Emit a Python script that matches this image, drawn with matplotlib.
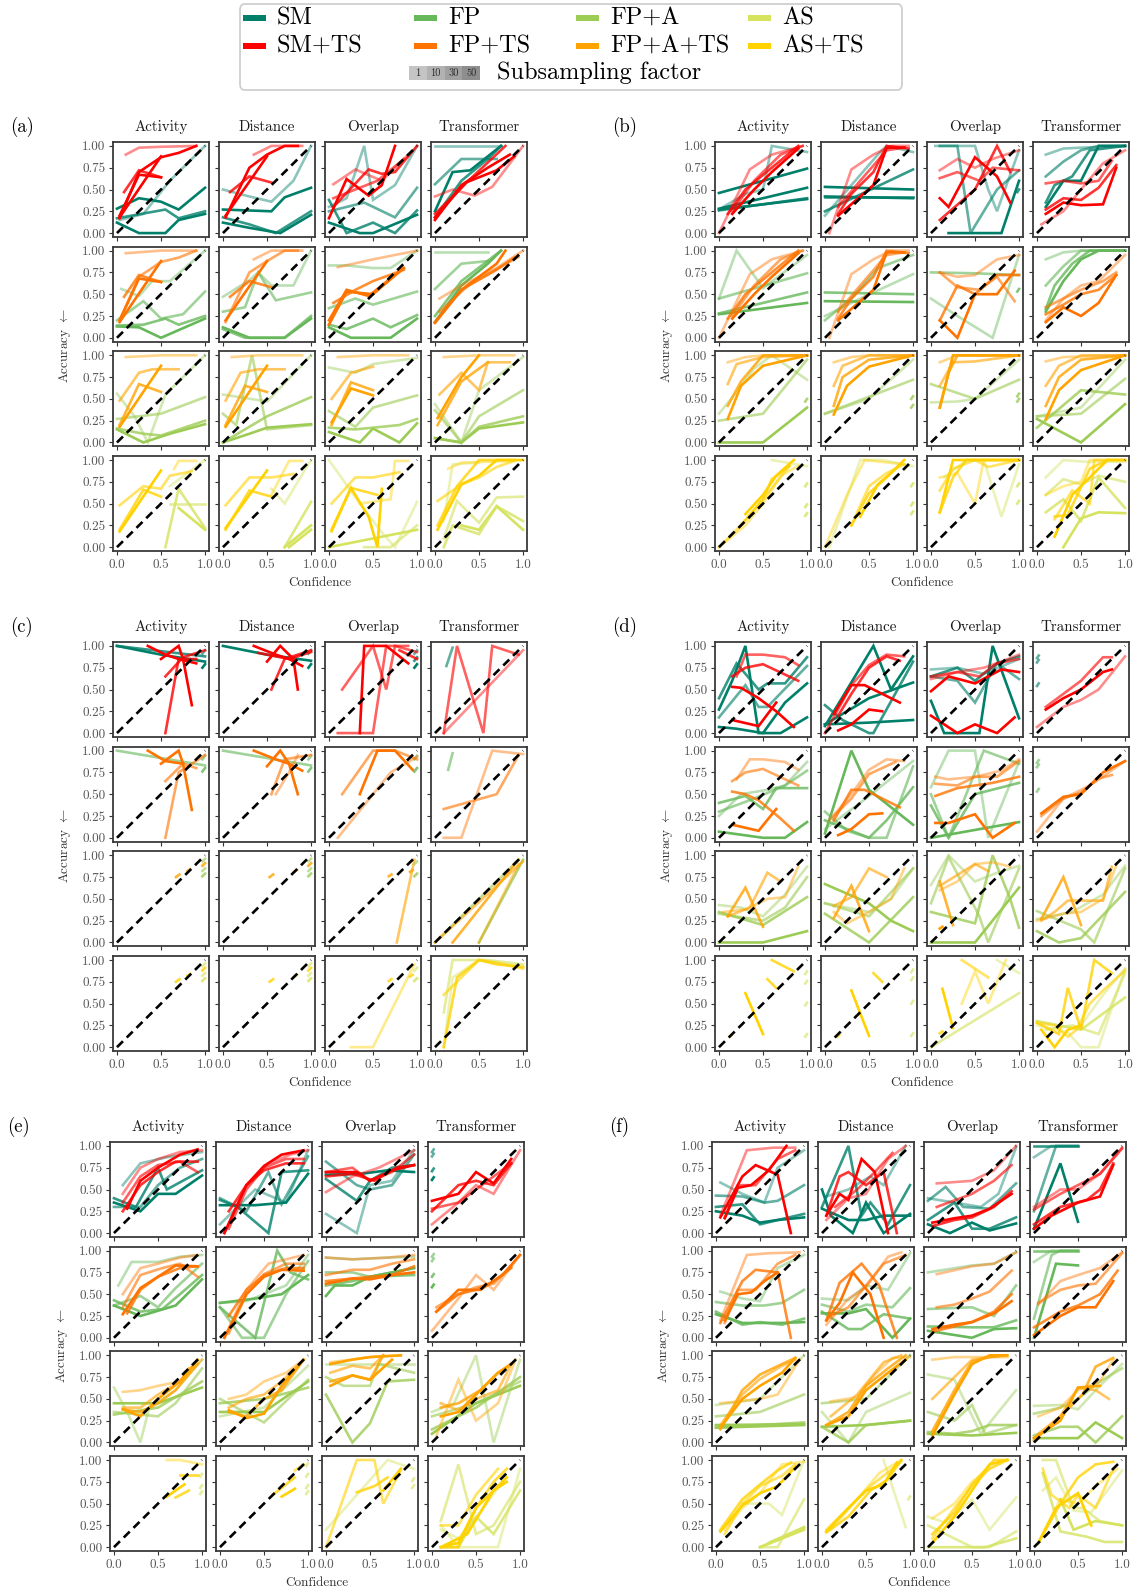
import matplotlib.pyplot as plt
from matplotlib.patches import Rectangle, FancyBboxPatch

plt.rcParams['font.family'] = ['cmr10', 'DejaVu Serif']
plt.rcParams['mathtext.fontset'] = 'cm'
plt.rcParams['axes.formatter.use_mathtext'] = True

# ---------------- data ----------------
# each line: (is_TS, subsampling level 0..3 (1,10,30,50), [x0, y0, x1, y1, ...])
columns = ["Activity", "Distance", "Overlap", "Transformer"]
base_names = ["SM", "FP", "FP+A", "AS"]
ts_names = ["SM+TS", "FP+TS", "FP+A+TS", "AS+TS"]
sub_factors = ["1", "10", "30", "50"]
y_ticks = [0.0, 0.25, 0.5, 0.75, 1.0]
x_ticks = [0.0, 0.5, 1.0]
diag = [0.0, 1.0]

panel_a = {
    "Activity": [
        [(0, 0, [0.03, .15, .3, .22, .6, .6, 1., 1.]),
         (0, 3, [0., .28, .25, .4, .5, .36, .7, .27, 1., .52]),
         (0, 2, [0., .17, .55, .27, .7, .17, 1., .25]),
         (0, 3, [0., .12, .25, 0., .55, 0., .7, .15, 1., .22]),
         (1, 0, [.1, .9, .25, .98, .5, .99, .9, 1.]),
         (1, 3, [.03, .17, .25, .7, .5, .87, .7, .92, .9, 1.]),
         (1, 2, [.08, .47, .25, .72, .5, .64]),
         (1, 3, [.03, .18, .5, .88]),
         (1, 3, [.03, .2, .25, .67, .5, .64])],
        [(0, 0, [.05, .56, .25, .48, .4, .65, .6, .65, 1., 1.]),
         (0, 1, [0., .2, .3, .42, .5, .22, .75, .27, 1., .53]),
         (0, 2, [0., .14, .3, .15, .55, .22, .7, .15, 1., .25]),
         (0, 3, [0., .13, .25, .12, .5, 0., 1., .22]),
         (1, 0, [.1, .97, .5, 1., .9, 1.]),
         (1, 1, [.03, .2, .25, .7, .5, .87, .7, .92, .9, 1.]),
         (1, 2, [.08, .47, .25, .72, .5, .64]),
         (1, 3, [.03, .18, .5, .88]),
         (1, 3, [.03, .2, .25, .68, .5, .64])],
        [(0, 0, [0., .56, .2, .3, .35, 0., .55, .55, 1., 1.]),
         (0, 1, [0., .27, .25, .3, .5, .33, 1., .52]),
         (0, 2, [0., .16, .3, .1, .5, .08, 1., .25]),
         (0, 3, [0., .15, .3, 0., .6, .1, 1., .21]),
         (1, 0, [.1, .98, .5, 1., .9, 1.]),
         (1, 1, [.03, .48, .25, .8, .4, .84, .7, .84]),
         (1, 2, [.03, .2, .25, .67, .5, .58]),
         (1, 3, [.03, .18, .5, .88])],
        [(0, 0, [.6, .7, 1., 1.]),
         (0, 1, [.6, .5, .8, .5, 1., .5]),
         (0, 2, [.55, 0., .7, .67, 1., .22]),
         (0, 3, [.7, .45, 1., .2]),
         (1, 0, [.65, .9, .7, .99, .9, .99]),
         (1, 1, [.03, .48, .3, .7, .5, .67, .6, .82, .85, .87]),
         (1, 2, [.03, .2, .3, .66, .5, .58]),
         (1, 3, [.03, .18, .5, .88])],
    ],
    "Distance": [
        [(0, 0, [0., .5, .3, .42, .55, .36, .8, .6, 1., 1.]),
         (0, 3, [0., .27, .55, .25, .7, .41, 1., .52]),
         (0, 2, [0., .18, .3, .1, .6, 0., 1., .25]),
         (0, 3, [0., .12, .3, .06, .65, 0., 1., .21]),
         (1, 0, [.35, .9, .55, 1., .9, 1.]),
         (1, 3, [.03, .18, .3, .75, .5, .9, .7, 1., .85, 1.]),
         (1, 2, [.08, .47, .3, .65, .55, .58]),
         (1, 3, [.03, .2, .5, .88])],
        [(0, 0, [0., .47, .3, .66, .4, .75, .55, .6, .8, .6, 1., 1.]),
         (0, 1, [0., .3, .25, .35, .4, .75, .6, .43, 1., .52]),
         (0, 2, [0., .1, .25, 0., .7, 0., 1., .25]),
         (0, 3, [0., .12, .3, 0., .7, 0., 1., .22]),
         (1, 0, [.35, .9, .55, 1., .9, 1.]),
         (1, 1, [.03, .18, .3, .75, .5, .88, .7, 1., .85, 1.]),
         (1, 2, [.08, .47, .3, .65, .55, .58]),
         (1, 3, [.03, .2, .5, .88])],
        [(0, 0, [0., .55, .5, .47, 1., 1.]),
         (0, 1, [0., .33, .15, .2, .33, 1., .5, .15, 1., .2]),
         (0, 2, [0., 0., .5, .3, 1., .52]),
         (0, 3, [0., 0., .3, .1, .5, .17, 1., .21]),
         (1, 0, [.1, .98, .4, 1., .9, 1.]),
         (1, 1, [.03, .48, .2, .8, .4, .84, .7, .84]),
         (1, 2, [.03, .2, .25, .65, .5, .58]),
         (1, 3, [.03, .18, .5, .88])],
        [(0, 0, [.55, .67, .7, .5, 1., 1.]),
         (0, 2, [.7, 0., 1., .52]),
         (0, 3, [.7, 0., 1., .25]),
         (0, 3, [.75, 0., 1., .2]),
         (1, 0, [.55, .6, .75, .99, .9, .99]),
         (1, 1, [.03, .48, .3, .8, .55, .8, .8, .84]),
         (1, 2, [.03, .2, .3, .65, .55, .58]),
         (1, 3, [.03, .22, .5, .88])],
    ],
    "Overlap": [
        [(0, 0, [0., .3, .2, .4, .4, 1., .5, .38, .75, .55, 1., 1.]),
         (0, 1, [0., .25, .4, .35, .75, .18, 1., .52]),
         (0, 2, [0., .38, .2, 0., .5, .12, .75, 0., 1., .26]),
         (0, 3, [0., .12, .35, 0., .5, 0., 1., .21]),
         (1, 0, [.05, .56, .3, .73, .6, .6, .9, .9]),
         (1, 1, [.05, .4, .3, .5, .55, .6, .85, .85]),
         (1, 3, [0., .17, .2, .62, .45, .43, .6, .55, .75, 1.]),
         (1, 2, [.05, .3, .45, .73, .6, .68, .75, .7, 1., 1.])],
        [(0, 0, [0., .83, .2, .83, .5, .8, .7, .8, 1., 1.]),
         (0, 1, [0., .34, .3, .45, .5, .38, 1., .53]),
         (0, 2, [0., .15, .2, .1, .5, .22, .7, .12, 1., .26]),
         (0, 3, [0., .12, .25, 0., .7, 0., 1., .22]),
         (1, 0, [.1, .81, .5, .9, 1., 1.]),
         (1, 2, [.05, .4, .3, .55, .5, .65, .85, .78]),
         (1, 3, [0., .15, .2, .53, .5, .5, .85, .8]),
         (1, 3, [0., .2, .2, .55, .45, .48, .85, .8])],
        [(0, 0, [0., .86, .3, .8, .5, .9, 1., .97]),
         (0, 1, [0., .36, .3, .18, .5, .4, 1., .54]),
         (0, 2, [0., .17, .3, .15, .8, .2, 1., .27]),
         (0, 3, [0., .12, .35, 0., .5, .16, .8, 0., 1., .22]),
         (1, 0, [.1, .98, .5, 1., .9, 1.]),
         (1, 1, [.03, .5, .25, .8, .5, .87]),
         (1, 2, [.03, .2, .25, .69, .5, .6]),
         (1, 3, [.03, .23, .25, .62, .5, .54])],
        [(0, 0, [0., 1., .35, .5, .6, .17, .75, 0., 1., .52]),
         (0, 1, [.4, 0., .7, 0., 1., .25]),
         (0, 3, [0., 0., 1., .2]),
         (1, 0, [.35, .5, .7, .55, .75, .99, .9, .99]),
         (1, 1, [.03, .5, .3, .8, .5, .8, .8, .86]),
         (1, 2, [.03, .18, .25, .68, .55, .6]),
         (1, 3, [.03, .2, .25, .68, .45, .35, .55, 0., .6, .67])],
    ],
    "Transformer": [
        [(0, 0, [0., 1., .75, 1.]),
         (0, 1, [0., .56, .3, .85, .7, .85]),
         (0, 3, [0., .25, .2, .7, .4, .72, .75, 1.]),
         (0, 2, [0., .18, .3, .6, .6, .85, .75, 1.]),
         (1, 0, [0., .42, .2, .5, .45, .43, .65, .53, 1., 1.]),
         (1, 3, [0., .15, .3, .55, .6, .75, .85, .9]),
         (1, 2, [0., .22, .4, .62, .8, 1.]),
         (1, 3, [0., .18, .35, .58, .7, .72, .9, .88])],
        [(0, 0, [0., .98, .6, .98]),
         (0, 1, [0., .56, .3, .85, .6, .88]),
         (0, 2, [0., .25, .3, .65, .75, 1.]),
         (0, 3, [0., .18, .3, .6, .6, .85, .75, 1.]),
         (1, 0, [.05, .45, .3, .6, .7, .8, 1., 1.]),
         (1, 1, [.05, .3, .4, .62, .95, .93]),
         (1, 2, [0., .18, .3, .55, .7, .78, .9, .92]),
         (1, 3, [0., .17, .3, .55, .7, .85, .8, 1.])],
        [(0, 0, [0., .44, .3, 0., .5, .6, 1., .98]),
         (0, 1, [0., .37, .3, 0., .5, .3, 1., .6]),
         (0, 2, [0., .05, .3, 0., .5, .18, 1., .3]),
         (0, 3, [0., .05, .3, 0., .5, .16, 1., .23]),
         (1, 0, [.1, .98, .5, 1., .9, 1.]),
         (1, 1, [.05, .55, .3, .8, .5, .6, .6, .92, .85, .92]),
         (1, 2, [.03, .2, .3, .7, .6, .92]),
         (1, 3, [.03, .28, .3, .75, .5, 1.])],
        [(0, 0, [.1, .3, .2, .95, .5, .97]),
         (0, 1, [.1, .1, .25, .53, .5, .28, .7, .57, 1., .58]),
         (0, 2, [.1, 0., .2, .25, .5, .15, .7, .47, 1., .3]),
         (0, 3, [.3, .25, .5, .2, .7, .47, 1., .2]),
         (1, 0, [.15, .9, .3, .97, .9, .99]),
         (1, 1, [.03, .53, .3, .72, .5, .8, .7, .92, .9, .99]),
         (1, 2, [.03, .25, .25, .7, .5, 1., .9, 1.]),
         (1, 3, [.03, .2, .3, .72, .5, .82, .7, 1., 1., 1.])],
    ],
}

panel_b = {
    "Activity": [
        [(0, 0, [.05, .3, .3, .45, .5, .5, .6, 1., 1., .93]),
         (0, 3, [0., .46, 1., .74]),
         (0, 3, [0., .28, 1., .52]),
         (0, 3, [0., .27, 1., .39]),
         (0, 2, [0., .26, 1., .4]),
         (1, 0, [0., 0., .35, .73, .6, .9, .95, 1.]),
         (1, 1, [.15, .25, .4, .6, .7, .9, .95, 1.]),
         (1, 2, [.1, .22, .3, .5, .6, .75, .9, 1.]),
         (1, 3, [.15, .22, .4, .5, .6, .7, .9, .97])],
        [(0, 0, [0., .45, .2, 1., .5, .57, 1., .95]),
         (0, 1, [0., .45, 1., .74]),
         (0, 2, [0., .28, 1., .52]),
         (0, 3, [0., .27, 1., .4]),
         (1, 0, [0., 0., .35, .73, .6, .9, .95, 1.]),
         (1, 1, [.15, .25, .4, .6, .7, .9, .95, 1.]),
         (1, 2, [.1, .22, .3, .5, .6, .75, .9, 1.]),
         (1, 3, [.15, .22, .4, .5, .6, .7, .9, .97])],
        [(0, 0, [0., .33, .2, .58, .4, .85, .6, 1., 1., .72]),
         (0, 1, [0., .25, .5, .33, 1., .95]),
         (0, 3, [0., 0., .5, 0., 1., .4]),
         (0, 2, [.98, .47, 1., .5]),
         (1, 0, [.1, .92, .3, .98, .5, 1., 1., 1.]),
         (1, 1, [.1, .67, .2, .9, .5, .98, 1., 1.]),
         (1, 2, [.1, .42, .25, .7, .5, 1., 1., 1.]),
         (1, 3, [.1, .27, .25, .65, .5, .88, 1., 1.])],
        [(0, 0, [.6, 1., 1., .93]),
         (0, 2, [.98, .7, 1., .73]),
         (0, 2, [.98, .46, 1., .49]),
         (0, 2, [.98, .36, 1., .39]),
         (1, 0, [0., 0., .3, .25, .5, .5, .7, .82, .9, .93]),
         (1, 1, [0., 0., .25, .25, .5, .55, .8, .93]),
         (1, 2, [.25, .25, .5, .55, .6, .78, .8, .93]),
         (1, 3, [.3, .38, .5, .6, .65, .82, .85, 1.])],
    ],
    "Distance": [
        [(0, 0, [0., .2, .3, .55, .6, .9, .7, 1., 1., .93]),
         (0, 3, [0., .53, 1., .5]),
         (0, 3, [0., .42, 1., .4]),
         (0, 2, [0., .25, 1., .73]),
         (0, 2, [0., .41, 1., .41]),
         (1, 0, [.05, 0., .3, .73, .55, .9, .75, 1., .95, 1.]),
         (1, 1, [.15, .3, .4, .6, .7, .95, .9, .98]),
         (1, 2, [.15, .22, .3, .45, .55, .7, .7, 1., .95, .97]),
         (1, 3, [.15, .2, .4, .42, .55, .55, .7, .98, .9, .98])],
        [(0, 0, [0., .25, .4, .45, 1., .73]),
         (0, 1, [0., .2, .3, .45, .6, .8, 1., .95]),
         (0, 2, [0., .52, 1., .5]),
         (0, 3, [0., .42, 1., .41]),
         (1, 0, [.05, 0., .3, .73, .55, .9, .75, 1., .95, 1.]),
         (1, 1, [.15, .3, .4, .6, .7, .95, .9, .98]),
         (1, 2, [.15, .22, .3, .45, .55, .7, .7, 1., .95, .97]),
         (1, 3, [.15, .2, .4, .42, .55, .55, .7, .98, .9, .98])],
        [(0, 0, [0., .33, .5, .5, 1., .95]),
         (0, 1, [0., .33, 1., .72]),
         (0, 2, [.98, .5, 1., .53]),
         (0, 2, [.98, .4, 1., .43]),
         (1, 0, [.1, .92, .3, .98, .5, 1., 1., 1.]),
         (1, 1, [.1, .65, .2, .88, .5, 1., 1., 1.]),
         (1, 2, [.1, .42, .2, .75, .5, .95, 1., 1.]),
         (1, 3, [.1, .32, .25, .65, .5, .87, 1., 1.])],
        [(0, 0, [.05, 0., .4, 1., .65, 1., 1., .93]),
         (0, 2, [.98, .7, 1., .73]),
         (0, 2, [.98, .48, 1., .51]),
         (0, 2, [.98, .38, 1., .41]),
         (1, 0, [0., 0., .25, .6, .45, 1., .9, .95]),
         (1, 1, [.3, .25, .5, .7, .7, .85, .9, .95]),
         (1, 2, [.3, .25, .5, .62, .7, .8, .85, .95]),
         (1, 3, [.4, .35, .6, .72, .75, .85, .9, 1.])],
    ],
    "Overlap": [
        [(0, 0, [.05, 1., .5, 1., .65, .5, .75, .25, 1., .95]),
         (0, 1, [.1, 1., .3, 1., .45, 0., .75, .5, 1., .72]),
         (0, 3, [.2, 0., .8, 0., 1., .6]),
         (0, 2, [.98, .47, 1., .5]),
         (1, 0, [.1, .72, .3, .85, .5, .75, .7, .85, 1., .95]),
         (1, 1, [.1, .63, .3, .7, .55, .6, .7, .75, 1., .72]),
         (1, 2, [.1, .15, .5, .5, .75, 1., .9, .7]),
         (1, 3, [.1, .4, .2, .3, .5, .87, .75, .65, .9, .35])],
        [(0, 0, [0., .45, .3, .25, .7, 0., 1., .95]),
         (0, 1, [0., .75, .5, .74, 1., .72]),
         (0, 2, [.98, .53, 1., .56]),
         (1, 0, [.1, .75, .3, .7, .5, .72, .75, .9, 1., .95]),
         (1, 1, [.1, .75, .3, .58, .55, .55, .75, .7, .95, .42]),
         (1, 2, [.1, .2, .3, .6, .5, .5, .75, .72, 1., .72]),
         (1, 3, [.1, .2, .3, 0., .5, .5, .75, .5, .95, .77])],
        [(0, 0, [0., .46, .3, .47, .5, .5, 1., .95]),
         (0, 1, [0., .67, .5, .5, 1., .72]),
         (0, 2, [.98, .53, 1., .56]),
         (0, 2, [.98, .47, 1., .5]),
         (1, 0, [.1, .92, .3, 1., 1., 1.]),
         (1, 1, [.1, .65, .25, .92, .5, .93, 1., 1.]),
         (1, 2, [.1, .4, .2, .8, .3, 1., 1., 1.]),
         (1, 3, [.1, .4, .25, 1., 1., 1.])],
        [(0, 0, [.15, .8, .4, 1., .6, 1., .8, .35, 1., .95]),
         (0, 2, [.98, .7, 1., .73]),
         (0, 2, [.98, .5, 1., .53]),
         (1, 0, [.1, .8, .3, .85, .5, .5, .6, 1., 1., 1.]),
         (1, 1, [.1, .65, .25, .9, .5, 1., .65, .92, 1., 1.]),
         (1, 2, [.1, .4, .25, .8, .4, 1., 1., 1.]),
         (1, 3, [.1, .4, .25, 1., 1., 1.])],
    ],
    "Transformer": [
        [(0, 0, [.1, .9, .3, .97, .5, .98, 1., 1.]),
         (0, 1, [.1, .65, .3, .82, .5, .95, .7, 1., 1., 1.]),
         (0, 2, [.1, .35, .2, .55, .4, .65, .6, .95, 1., 1.]),
         (0, 3, [.1, .3, .3, .6, .5, .6, .7, 1., 1., 1.]),
         (1, 0, [.05, .1, .3, .25, .5, .5, .75, .8, 1., .95]),
         (1, 1, [.1, .57, .3, .6, .5, .57, .7, .6, .85, .83]),
         (1, 2, [.1, .27, .3, .4, .5, .38, .7, .52, .9, .78]),
         (1, 3, [.1, .22, .3, .35, .5, .32, .75, .33, .9, .75])],
        [(0, 0, [.1, .9, .3, .98, .5, 1., 1., 1.]),
         (0, 1, [.1, .6, .3, .82, .5, 1., 1., 1.]),
         (0, 2, [.1, .33, .2, .6, .4, .85, .6, 1., 1., 1.]),
         (0, 3, [.1, .3, .3, .65, .5, .9, .7, 1., 1., 1.]),
         (1, 0, [.1, .2, .3, .45, .5, .6, .7, .65, 1., .95]),
         (1, 1, [.1, .35, .3, .45, .5, .55, .75, .65, .9, .75]),
         (1, 2, [.1, .27, .3, .38, .5, .5, .7, .55, .9, .72]),
         (1, 3, [.1, .18, .3, .35, .5, .25, .7, .4, .9, .72])],
        [(0, 0, [0., .3, .5, .4, 1., .95]),
         (0, 1, [0., .3, .5, .33, 1., .73]),
         (0, 2, [0., .17, .5, .6, 1., .55]),
         (0, 3, [0., .27, .5, 0., 1., .44]),
         (1, 0, [.1, .93, .3, .98, 1., 1.]),
         (1, 1, [.1, .65, .25, .88, .5, 1., 1., 1.]),
         (1, 2, [.1, .42, .25, .75, .5, .95, 1., 1.]),
         (1, 3, [.1, .27, .25, .6, .5, .83, 1., 1.])],
        [(0, 0, [.1, .8, .3, 1., .55, .98, 1., .98]),
         (0, 1, [.1, .6, .3, .78, .5, .72, .7, .82, 1., .75]),
         (0, 2, [.1, .4, .3, .55, .5, .3, .7, .8, 1., .45]),
         (0, 3, [.3, 0., .5, .33, .7, .4, 1., .39]),
         (1, 0, [.1, .6, .3, .7, .5, .75, .6, 1., 1., 1.]),
         (1, 1, [.2, .32, .4, .65, .6, .5, .65, 1., 1., 1.]),
         (1, 2, [.2, .35, .35, .37, .6, .9, .8, 1.]),
         (1, 3, [.2, .12, .4, .6, .6, .8, .8, 1., 1., 1.])],
    ],
}

panel_c = {
    "Activity": [
        [(0, 3, [0., 1., .5, .9, 1., .82]),
         (0, 2, [0., 1., 1., .88]),
         (0, 1, [.97, .91, 1., .95]),
         (0, 3, [.97, .75, 1., .79]),
         (1, 3, [.35, 1., .55, .9, .7, .85, .9, .8]),
         (1, 3, [.5, .85, .7, 1., .75, .85, .85, .32]),
         (1, 2, [.55, .65, .75, .87, 1., .95]),
         (1, 2, [.55, 0., .7, .85, .9, .85])],
        [(0, 1, [0., 1., 1., .83]),
         (0, 1, [.97, .9, 1., .94]),
         (0, 2, [.97, .76, 1., .8]),
         (1, 3, [.35, 1., .55, .88, .75, .85]),
         (1, 3, [.5, .85, .7, 1., .75, .85, .85, .32]),
         (1, 1, [.55, 0., .7, .75, 1., .95]),
         (1, 1, [.55, .65, .75, .85, .9, .8])],
        [(1, 2, [.67, .75, .71, .78]),
         (1, 2, [.8, .82, .83, .84]),
         (1, 2, [.97, .88, 1., .91]),
         (0, 1, [.97, .93, 1., .96]),
         (0, 1, [.97, .82, 1., .85]),
         (0, 2, [.97, .76, 1., .79])],
        [(1, 2, [.67, .75, .71, .78]),
         (1, 2, [.8, .82, .83, .84]),
         (1, 2, [.97, .88, 1., .91]),
         (0, 1, [.97, .93, 1., .96]),
         (0, 1, [.97, .82, 1., .85]),
         (0, 2, [.97, .76, 1., .79])],
    ],
    "Distance": [
        [(0, 3, [0., 1., .5, .9, 1., .83]),
         (0, 1, [.97, .91, 1., .95]),
         (0, 3, [.97, .75, 1., .79]),
         (1, 3, [.35, 1., .6, .9, .75, .85, .9, .77]),
         (1, 3, [.5, .82, .65, 1., .8, .85, .85, .5]),
         (1, 2, [.55, .5, .7, .85, 1., .95]),
         (1, 2, [.4, .92, .75, .85, 1., .93])],
        [(0, 1, [0., 1., 1., .83]),
         (0, 1, [.97, .9, 1., .94]),
         (0, 2, [.97, .76, 1., .8]),
         (1, 3, [.35, 1., .6, .9, .75, .85, .9, .77]),
         (1, 3, [.5, .82, .65, 1., .75, .85, .85, .5]),
         (1, 1, [.55, .5, .7, .9, 1., .95]),
         (1, 0, [.6, .5, .75, .75, .85, .95])],
        [(1, 2, [.53, .75, .57, .78]),
         (1, 2, [.81, .81, .84, .83]),
         (1, 2, [.97, .88, 1., .91]),
         (0, 1, [.97, .93, 1., .96]),
         (0, 1, [.97, .82, 1., .85]),
         (0, 2, [.97, .76, 1., .79])],
        [(1, 2, [.53, .75, .57, .78]),
         (1, 2, [.81, .81, .84, .83]),
         (1, 2, [.97, .88, 1., .91]),
         (0, 1, [.97, .93, 1., .96]),
         (0, 1, [.97, .82, 1., .85]),
         (0, 2, [.97, .76, 1., .79])],
    ],
    "Overlap": [
        [(0, 1, [.97, .91, 1., .95]),
         (0, 2, [.97, .83, 1., .87]),
         (0, 3, [.97, .75, 1., .79]),
         (1, 1, [.15, .5, .5, 1., .65, .5, .75, 1., 1., .93]),
         (1, 1, [.1, 0., .5, 0., .65, 1., .9, 1.]),
         (1, 3, [.35, 0., .4, 1., .65, 1., .9, .8]),
         (1, 2, [.8, .95, 1., .85])],
        [(0, 1, [.97, .9, 1., .94]),
         (0, 2, [.97, .76, 1., .8]),
         (1, 1, [.15, .5, .5, 1., .75, 1., 1., .9]),
         (1, 3, [.35, .5, .55, 1., .75, 1., .95, .78]),
         (1, 0, [.1, 0., .5, .5, .7, .75, 1., .93])],
        [(1, 1, [.77, 0., .97, .95]),
         (1, 2, [.68, .76, .71, .78]),
         (1, 2, [.92, .81, .95, .83]),
         (0, 1, [.97, .9, 1., .93]),
         (0, 2, [.97, .76, 1., .79])],
        [(1, 0, [.25, 0., .5, 0., .97, .95]),
         (1, 2, [.68, .76, .71, .78]),
         (1, 2, [.92, .81, .95, .83]),
         (0, 1, [.97, .88, 1., .91]),
         (0, 2, [.97, .76, 1., .79])],
    ],
    "Transformer": [
        [(0, 1, [.13, .77, .2, .98]),
         (1, 1, [.1, 0., .25, 1., .55, 0., .65, 1., .95, .9]),
         (1, 0, [.1, 0., 1., .95])],
        [(0, 1, [.15, .78, .2, .97]),
         (1, 1, [.1, .33, .7, .5, .95, .95]),
         (1, 0, [.1, 0., .3, 0., .65, 1., 1., .96])],
        [(0, 1, [0., 0., .95, .95]),
         (0, 2, [.5, 0., 1., .95]),
         (1, 2, [.2, 0., .95, .95]),
         (1, 1, [0., 0., 1., .93]),
         (1, 0, [.5, 0., .95, .9])],
        [(0, 1, [.1, .4, .2, 1., .6, 1., 1., .95]),
         (0, 0, [.1, 0., .2, .8, .5, 1., 1., .92]),
         (1, 2, [.1, 0., .25, .8, .5, 1., .7, .95, 1., .92]),
         (1, 1, [.1, .6, .3, .8, .5, 1., .7, .97, 1., .9])],
    ],
}

panel_d = {
    "Activity": [
        [(0, 3, [0., .27, .15, .6, .3, 1., .45, 0., .5, 0., .75, .35, 1., .57]),
         (0, 2, [0., .4, .2, .8, .45, .5, .55, .57, .75, .57, 1., .87]),
         (0, 1, [0., .18, .3, .55, .45, .3, .55, .3, 1., .77]),
         (0, 3, [0., .07, .2, .05, .5, 0., .7, 0., 1., .18]),
         (1, 1, [.2, .65, .3, .9, .5, .9, .75, .87, .9, .78]),
         (1, 2, [.15, .65, .3, .75, .5, .79, .9, .6]),
         (1, 3, [.15, .53, .25, .52, .45, .4, .65, .25, .85, .07]),
         (1, 3, [.15, .15, .45, .08, .65, .35])],
        [(0, 0, [0., .25, .25, .5, .55, .55, .75, .6, 1., .87]),
         (0, 1, [0., .3, .4, .45, .75, .6, 1., .77]),
         (0, 2, [0., .4, .3, .48, .5, .33, .65, .57, 1., .57]),
         (0, 3, [0., .07, .5, 0., .75, 0., 1., .18]),
         (1, 0, [.2, .67, .35, .9, .5, .9, .75, .87, .9, .78]),
         (1, 1, [.15, .65, .3, .75, .5, .79, .9, .6]),
         (1, 2, [.15, .53, .3, .5, .45, .43, .7, .22, .85, .08]),
         (1, 3, [.15, .15, .45, .08, .65, .33])],
        [(0, 0, [0., .43, .25, .4, .5, .3, .75, .55, 1., .87]),
         (0, 1, [0., .33, .5, .25, .75, .4, 1., .75]),
         (0, 2, [0., .35, .5, .2, 1., .52]),
         (0, 3, [0., 0., .5, 0., 1., .13]),
         (1, 0, [.05, .35, .3, .38, .55, .5, .75, .52, .9, .87]),
         (1, 1, [.1, .3, .35, .4, .55, .8, .7, .7]),
         (1, 2, [.1, .3, .3, .63, .5, .18])],
        [(1, 2, [.6, 1., .85, .87]),
         (1, 3, [.3, .62, .5, .15]),
         (1, 2, [.55, .78, .65, .68]),
         (1, 2, [.12, .12, .14, .14]),
         (0, 1, [.98, .84, 1., .87]),
         (0, 1, [.98, .73, 1., .76]),
         (0, 1, [.98, .48, 1., .51]),
         (0, 1, [.98, .12, 1., .15])],
    ],
    "Distance": [
        [(0, 3, [0., .08, .55, 1., .75, .5, 1., .88]),
         (0, 2, [0., .32, .2, .15, .5, 0., .55, 0., 1., .82]),
         (0, 3, [0., .1, .5, .4, 1., .58]),
         (0, 3, [0., .1, .5, .12, 1., .15]),
         (1, 1, [0., 0., .3, .55, .5, .78, .7, .9, .9, .88]),
         (1, 2, [.15, .2, .3, .45, .5, .75, .7, .88, .85, .83]),
         (1, 3, [.1, .22, .3, .55, .45, .55, .85, .35]),
         (1, 3, [.15, .03, .3, .1, .5, .27, .65, .25])],
        [(0, 3, [0., .05, .3, 1., .5, .55, 1., .15]),
         (0, 1, [0., .3, .25, .08, .5, 0., .7, 0., 1., .82]),
         (0, 0, [0., .1, .4, .4, 1., .88]),
         (0, 2, [0., .2, .5, 0., .7, .2, 1., .58]),
         (1, 0, [.05, .2, .3, .5, .5, .78, .7, .9, .9, .88]),
         (1, 1, [.1, .25, .3, .45, .5, .73, .8, .87]),
         (1, 2, [.1, .2, .3, .55, .45, .55, .85, .35]),
         (1, 3, [.15, .03, .3, .1, .5, .27, .65, .28])],
        [(0, 3, [0., .67, .5, .45, .75, .25, 1., .13]),
         (0, 2, [0., .33, .5, 0., 1., .52]),
         (0, 1, [0., .45, .5, .3, 1., .85]),
         (0, 0, [0., .45, .5, .35, .75, .5, 1., .85]),
         (1, 0, [.1, .35, .25, .22, .5, .35, .75, .5, .9, .85]),
         (1, 1, [.1, .42, .3, .52, .5, .85, .7, .75]),
         (1, 2, [.1, .28, .3, .65, .5, .13])],
        [(1, 3, [.3, .65, .5, .13]),
         (1, 2, [.55, .85, .65, .75]),
         (1, 2, [.14, .12, .16, .14]),
         (0, 1, [.98, .86, 1., .89]),
         (0, 1, [.98, .77, 1., .8]),
         (0, 1, [.98, .5, 1., .53]),
         (0, 1, [.98, .13, 1., .16])],
    ],
    "Overlap": [
        [(0, 0, [0., .73, .3, .75, .6, .68, 1., .85]),
         (0, 1, [0., .65, .3, .6, .5, .35, .75, .8, 1., .62]),
         (0, 3, [0., .37, .15, 0., .55, 0., .7, 1., 1., .17]),
         (0, 2, [0., .65, .3, .75, .5, .6, .75, .8, 1., .88]),
         (1, 0, [0., .62, .3, .7, .6, .75, .8, .82, 1., .9]),
         (1, 1, [0., .65, .3, .7, .55, .65, .75, .8, 1., .85]),
         (1, 3, [0., .48, .2, .65, .5, .57, .8, .73, 1., .7]),
         (1, 3, [0., .2, .3, 0., .5, .1, .75, 0., .95, .18])],
        [(0, 0, [0., .58, .2, 1., .5, 1., .65, 0., 1., .87]),
         (0, 1, [0., .5, .2, 0., .6, 1., 1., .85]),
         (0, 2, [0., .37, .2, 0., .5, .5, 1., .63]),
         (0, 3, [0., 0., 1., .18]),
         (1, 0, [.05, .7, .2, .67, .5, .7, .8, .77, 1., .9]),
         (1, 1, [.05, .62, .3, .6, .5, .7, .75, .7, 1., .88]),
         (1, 2, [.05, .48, .3, .57, .7, .63, 1., .7]),
         (1, 3, [.05, .17, .2, .17, .5, .27, .7, 0., .95, .17])],
        [(0, 0, [0., .66, .2, 1., .5, .7, .75, .8, 1., .88]),
         (0, 1, [0., .45, .2, .98, .55, .3, .65, 0., 1., .85]),
         (0, 2, [0., .35, .5, .22, .7, 1., .9, .5, 1., .17]),
         (0, 3, [0., 0., .5, 0., 1., .63]),
         (1, 0, [.1, .6, .3, .7, .5, .9, .7, .92, .9, .87]),
         (1, 1, [.1, .65, .5, .9, .65, .82]),
         (1, 2, [.1, .7, .25, .2]),
         (1, 3, [.1, .16, .13, .18])],
        [(0, 1, [0., 0., 1., .62]),
         (0, 0, [.75, 1., 1., .85]),
         (1, 1, [.35, 1., .65, .8]),
         (1, 0, [.35, .5, .5, .87, .65, .5, .85, 1.]),
         (1, 3, [.13, .67, .25, .22]),
         (1, 2, [.1, .16, .13, .18])],
    ],
    "Transformer": [
        [(0, 1, [0., .86, .02, .89]),
         (0, 1, [0., .81, .02, .84]),
         (0, 1, [0., .54, .02, .57]),
         (1, 0, [0., .07, .3, .3, .5, .38, .7, .5, 1., .88]),
         (1, 1, [.1, .3, .5, .6, .75, .87, .85, .87]),
         (1, 3, [.1, .27, .3, .4, .5, .5, .75, .7, .85, .73])],
        [(0, 1, [0., .86, .02, .89]),
         (0, 1, [0., .81, .02, .84]),
         (0, 1, [0., .53, .02, .56]),
         (1, 0, [0., .07, .3, .45, .6, .6, 1., .88]),
         (1, 1, [.05, .25, .3, .45, .5, .52, .7, .68, .85, .72]),
         (1, 3, [.05, .28, .3, .47, .5, .5, .75, .75, 1., .88])],
        [(0, 0, [0., .27, .4, .35, .75, .55, 1., .88]),
         (0, 1, [0., .36, .5, .15, .65, 0., 1., .85]),
         (0, 2, [0., .13, .25, 0., .5, .05, 1., .58]),
         (1, 0, [0., .25, .3, .33, .5, .35, .75, .5, .9, .88]),
         (1, 1, [.05, .25, .2, .35, .35, .48, .75, .48, .85, .87]),
         (1, 2, [.05, .27, .3, .75, .5, .2])],
        [(0, 0, [0., .25, .35, .17, .5, 0., .7, 0., 1., .9]),
         (0, 1, [.1, .2, .4, .25, .7, .15, 1., .85]),
         (0, 2, [0., .3, .5, .2, 1., .57]),
         (0, 0, [.5, .25, .75, .6, 1., .9]),
         (1, 1, [0., .28, .2, .25, .35, .12, .45, .2, .6, .5, .75, .65, 1., .88]),
         (1, 2, [0., .28, .25, .15, .35, .68, .5, .2, .65, 1., .85, .85]),
         (1, 3, [.05, .2, .2, 0., .35, .2, .5, .25])],
    ],
}

panel_e = {
    "Activity": [
        [(0, 0, [.1, .55, .3, .8, .6, .87, 1., .93]),
         (0, 1, [0., .3, .3, .3, .5, .55, .75, .75, 1., .85]),
         (0, 2, [0., .4, .25, .3, .5, .75, .6, .5, 1., .72]),
         (0, 3, [0., .35, .3, .25, .5, .45, .7, .45, 1., .66]),
         (1, 0, [.1, .45, .3, .75, .5, .85, .75, .93, 1., .95]),
         (1, 1, [.1, .35, .3, .65, .5, .78, .75, .82, .95, .7]),
         (1, 2, [.1, .25, .3, .55, .5, .7, .7, .82, .95, .82]),
         (1, 3, [.15, .28, .3, .6, .5, .75, .75, .9, .95, .96])],
        [(0, 0, [.05, .6, .2, .87, .5, .87, .75, .93, 1., .95]),
         (0, 1, [0., .37, .3, .48, .5, .35, .7, .57, 1., .85]),
         (0, 2, [0., .43, .3, .3, .55, .33, .75, .5, 1., .72]),
         (0, 3, [0., .37, .3, .25, .7, .37, 1., .67]),
         (1, 0, [.1, .5, .3, .8, .5, .85, .75, .92, .95, .95]),
         (1, 1, [.1, .35, .3, .72, .55, .8, .75, .85, .95, .7]),
         (1, 2, [.15, .28, .3, .55, .5, .7, .75, .8, .95, .82]),
         (1, 3, [.1, .27, .3, .57, .5, .7, .7, .83, .95, .82])],
        [(0, 0, [0., .63, .15, .35, .3, 0., .4, .4, .7, .6, 1., .95]),
         (0, 1, [0., .35, .5, .3, .7, .45, 1., .85]),
         (0, 2, [0., .32, .5, .4, 1., .7]),
         (0, 3, [0., .45, .5, .45, 1., .63]),
         (1, 0, [.1, .58, .3, .6, .5, .65, .75, .7, 1., .95]),
         (1, 1, [.1, .4, .3, .4, .5, .55, .75, .7, .85, .85]),
         (1, 2, [.1, .38, .3, .35, .5, .45, .7, .6, .95, .9]),
         (1, 3, [.1, .38, .3, .3, .5, .5, .75, .7, .95, .95])],
        [(1, 0, [.6, 1., .75, 1., 1., .95]),
         (1, 2, [.75, .83, .95, .83]),
         (1, 3, [.6, .58, .8, .72]),
         (1, 2, [.7, .57, .85, .65]),
         (0, 1, [.98, .81, 1., .84]),
         (0, 1, [.98, .68, 1., .71]),
         (0, 1, [.98, .61, 1., .64])],
    ],
    "Distance": [
        [(0, 0, [0., .1, .4, .5, .75, .35, 1., .95]),
         (0, 1, [0., .4, .3, .25, .55, .7, .7, .33, 1., .88]),
         (0, 2, [0., .38, .2, .3, .55, 0., .7, .7, 1., .72]),
         (0, 3, [0., .32, .4, .32, .75, .35, 1., .68]),
         (1, 0, [.05, 0., .3, .55, .55, .8, .8, .9, 1., .95]),
         (1, 1, [.1, .05, .3, .5, .5, .75, .75, .85, .95, .85]),
         (1, 2, [.1, .25, .3, .55, .5, .72, .75, .8, .95, .8]),
         (1, 3, [.05, 0., .3, .55, .5, .77, .7, .9, .95, .95])],
        [(0, 0, [0., .4, .3, .42, .5, .5, .75, .6, 1., .95]),
         (0, 1, [0., .35, .25, 0., .5, 0., .75, .5, 1., .88]),
         (0, 2, [0., .35, .4, 0., .65, 1., .8, .75, 1., .67]),
         (0, 3, [0., .4, .4, .45, .7, .5, 1., .72]),
         (1, 0, [.05, 0., .3, .55, .55, .85, .75, .9, .95, .95]),
         (1, 1, [.1, .05, .3, .5, .5, .73, .75, .85, .95, .85]),
         (1, 2, [.1, .25, .3, .55, .5, .72, .75, .8, .95, .8]),
         (1, 3, [.05, 0., .3, .5, .5, .7, .7, .78, .95, .77])],
        [(0, 0, [0., .3, .5, .4, 1., .88]),
         (0, 1, [0., .5, .5, .23, 1., .72]),
         (0, 2, [0., .45, .5, .5, 1., .63]),
         (0, 3, [0., .35, .5, .35, 1., .7]),
         (1, 0, [.1, .5, .3, .55, .5, .7, .75, .8, .95, .95]),
         (1, 1, [.1, .4, .3, .5, .5, .55, .7, .7, .9, .9]),
         (1, 2, [.1, .35, .3, .3, .5, .5, .7, .6, .95, .95]),
         (1, 3, [.1, .37, .3, .28, .5, .33, .7, .65, .95, .95])],
        [(1, 2, [.6, .6, .85, .8]),
         (1, 3, [.7, .58, .85, .67]),
         (1, 1, [.85, .88, .95, .95]),
         (0, 1, [.98, .93, 1., .96]),
         (0, 1, [.98, .81, 1., .84]),
         (0, 1, [.98, .68, 1., .71]),
         (0, 1, [.98, .61, 1., .64])],
    ],
    "Overlap": [
        [(0, 0, [0., .22, .35, 0., .5, .55, .75, .6, 1., .95]),
         (0, 1, [0., .82, .35, .55, .5, .5, .75, .55, 1., .9]),
         (0, 2, [0., .62, .35, .37, .5, .6, .75, .75, 1., .78]),
         (0, 3, [0., .67, .4, .68, .7, .72, 1., .7]),
         (1, 0, [0., .47, .3, .65, .6, .75, 1., .95]),
         (1, 1, [0., .7, .3, .75, .5, .6, .75, .7, 1., .9]),
         (1, 2, [0., .65, .3, .68, .55, .6, .8, .75, 1., .78]),
         (1, 3, [0., .7, .35, .7, .5, .6, .75, .72, 1., .78])],
        [(0, 0, [0., .92, .3, .9, .7, .92, 1., .93]),
         (0, 1, [0., .75, .3, .75, .5, .7, .75, .75, 1., .8]),
         (0, 2, [0., .6, .3, .65, .5, .7, 1., .72]),
         (0, 3, [0., .48, .1, .6, .3, .6, .5, .7, 1., .8]),
         (1, 0, [0., .92, .3, .9, .7, .92, 1., .95]),
         (1, 1, [0., .72, .3, .78, .5, .78, .75, .85, 1., .9]),
         (1, 2, [0., .65, .5, .7, .75, .72, 1., .82]),
         (1, 3, [0., .62, .3, .68, .5, .67, .75, .72, 1., .75])],
        [(0, 0, [0., .9, .5, .9, 1., .9]),
         (0, 1, [0., .75, .2, .65, .5, .65, .6, .9, 1., .8]),
         (0, 2, [0., .55, .3, 0., .5, .22, .7, .7, 1., .72]),
         (1, 0, [.05, .92, .5, .98, .85, 1.]),
         (1, 1, [.05, .8, .3, .88, .5, .85, .65, 1.]),
         (1, 2, [.05, .7, .3, .77, .5, .72, .65, 1.]),
         (1, 3, [.05, .65, .3, .77, .5, .72, .75, .95]),
         (1, 3, [.05, .9, .3, .95, .5, .98, .85, 1.])],
        [(0, 0, [0., .2, .35, .6, .7, 1., 1., .9]),
         (1, 1, [0., 0., .35, 1., .55, 1., .65, .5, .85, .88]),
         (1, 2, [.35, .63, .55, .7, .7, .8]),
         (1, 3, [.65, .65, .85, .9]),
         (0, 1, [.98, .76, 1., .79]),
         (0, 1, [.98, .68, 1., .71])],
    ],
    "Transformer": [
        [(0, 1, [0., .93, .02, .96]),
         (0, 1, [0., .88, .02, .91]),
         (0, 2, [0., .71, .02, .74]),
         (0, 3, [0., .61, .02, .64]),
         (1, 0, [0., .1, .3, .35, .5, .55, .7, .45, 1., .95]),
         (1, 1, [0., .28, .3, .35, .5, .5, .7, .65, .9, .8]),
         (1, 2, [0., .25, .3, .55, .5, .6, .7, .55, .9, .8]),
         (1, 3, [0., .37, .3, .45, .5, .7, .7, .57, .9, .85])],
        [(0, 1, [0., .93, .02, .96]),
         (0, 1, [0., .88, .02, .91]),
         (0, 2, [0., .7, .02, .73]),
         (0, 3, [0., .58, .02, .61]),
         (1, 0, [0., .08, .3, .45, .5, .72, .7, .55, 1., .95]),
         (1, 1, [.05, .35, .3, .5, .5, .58, .7, .62, .9, .82]),
         (1, 2, [.05, .3, .3, .5, .5, .55, .7, .65, .9, .8]),
         (1, 3, [.05, .3, .3, .55, .55, .55, .8, .72, 1., .95])],
        [(0, 0, [0., .35, .25, .45, .5, 1., .7, 0., 1., .95]),
         (0, 1, [0., .3, .5, .45, 1., .7]),
         (0, 2, [0., .15, .5, .4, 1., .75]),
         (0, 3, [0., .1, .5, .45, 1., .65]),
         (1, 0, [.05, .08, .3, .72, .5, .25, .75, .45, .95, .95]),
         (1, 1, [.1, .45, .3, .37, .5, .5, .75, .6, .9, .9]),
         (1, 2, [.1, .4, .3, .45, .55, .6, .75, .8, .9, .9]),
         (1, 3, [.1, .3, .3, .35, .5, .55, .75, .8, .9, .9])],
        [(0, 0, [.1, .25, .3, 0., .75, 0., 1., .9]),
         (0, 1, [.1, .3, .3, .95, .5, .15, .7, .25, 1., .75]),
         (0, 2, [.1, 0., .3, 0., .5, .35, .7, .15, 1., .65]),
         (0, 0, [.1, .2, .3, .1, .55, .4, .8, .75]),
         (1, 1, [.1, .25, .3, .25, .5, .6, .75, .9]),
         (1, 2, [.1, 0., .3, 0., .5, .45, .7, .75, .85, .9]),
         (1, 3, [.1, 0., .3, .05, .5, .45, .85, .8]),
         (1, 3, [.1, 0., .4, .15, .7, .65, .85, .75])],
    ],
}

panel_f = {
    "Activity": [
        [(0, 0, [.05, .58, .3, .45, .55, .35, .7, .75, 1., .95]),
         (0, 1, [0., .43, .3, .42, .55, .35, .7, .37, 1., .55]),
         (0, 2, [0., .3, .3, .33, .5, .1, .7, .15, 1., .22]),
         (0, 3, [0., .25, .3, .2, .5, .12, .7, .15, 1., .18]),
         (1, 0, [.05, .2, .35, .95, .65, .98, .9, .98]),
         (1, 1, [.1, .18, .25, .55, .45, .55, .7, .85, .9, .95]),
         (1, 3, [.05, .18, .3, .65, .45, .78, .7, .67, .85, 0.]),
         (1, 3, [.1, .17, .25, .52, .4, .55, .6, .72, .8, 1.])],
        [(0, 0, [.05, .53, .3, .45, .5, .42, .7, .8, 1., .95]),
         (0, 1, [0., .41, .3, .37, .55, .37, .75, .4, 1., .55]),
         (0, 2, [0., .3, .3, .15, .5, .18, .75, .15, 1., .22]),
         (0, 3, [0., .27, .3, .17, .55, .17, .75, .17, 1., .18]),
         (1, 0, [.05, .2, .35, .95, .6, .97, .95, .98]),
         (1, 1, [.1, .17, .25, .55, .45, .55, .7, .85, .9, .95]),
         (1, 2, [.05, .17, .3, .65, .45, .78, .7, .75, .85, 0.]),
         (1, 3, [.1, .2, .25, .5, .4, .52, .55, .65, .7, .75])],
        [(0, 0, [0., .43, .5, .5, 1., 1.]),
         (0, 1, [0., .3, .5, .35, 1., .55]),
         (0, 2, [0., .17, 1., .23]),
         (0, 3, [0., .2, 1., .21]),
         (0, 3, [0., .17, 1., .2]),
         (1, 0, [.05, .45, .5, .5, .7, .55, .95, .95]),
         (1, 1, [.05, .2, .3, .55, .5, .73, .75, .88, .9, .95]),
         (1, 2, [.05, .15, .3, .6, .5, .78, .75, .9, .9, .97]),
         (1, 3, [.05, .17, .3, .5, .5, .65, .75, .8, .9, .97])],
        [(0, 0, [.3, .5, .6, .5, .75, .37, 1., 1.]),
         (0, 1, [.5, 0., .7, 0., 1., .55]),
         (0, 2, [.5, 0., 1., .22]),
         (0, 3, [.6, .05, 1., .23]),
         (0, 3, [.5, 0., 1., .2]),
         (1, 0, [.1, .2, .3, .45, .5, .62, .75, .95, 1., .98]),
         (1, 1, [.1, .15, .3, .5, .5, .7, .75, .82, .9, .95]),
         (1, 2, [.05, .2, .3, .55, .5, .72, .7, .88, .85, .97]),
         (1, 3, [.05, .18, .3, .48, .5, .62, .7, .7, .9, .92])],
    ],
    "Distance": [
        [(0, 0, [.05, .42, .3, .5, .55, .65, .7, .55, .95, 1.]),
         (0, 2, [0., .3, .3, 1., .45, .2, .55, .35, .75, .1, 1., .55]),
         (0, 3, [0., .5, .1, .2, .35, 0., .5, .35, .7, 0., 1., .22]),
         (0, 3, [0., .28, .3, .15, .5, .15, .7, .2, 1., .2]),
         (1, 0, [.05, .15, .3, .4, .5, .45, .75, .85, .95, 1.]),
         (1, 1, [.15, .3, .4, .5, .6, .7, .8, .92]),
         (1, 2, [.05, .2, .2, .65, .3, .7, .5, .55, .7, .7, .85, 0.]),
         (1, 3, [.05, .2, .2, .45, .3, .38, .45, .85, .6, .7, .75, 0.])],
        [(0, 0, [0., .45, .3, .43, .5, .6, .75, .55, 1., .97]),
         (0, 1, [0., .38, .3, .3, .5, .38, .8, .35, 1., .57]),
         (0, 2, [0., .3, .3, .1, .45, .1, .7, .27, 1., .22]),
         (0, 3, [0., .28, .3, .28, .5, .33, .8, 0., 1., .22]),
         (1, 0, [.05, .15, .3, .45, .5, .58, .75, .93, .9, .98]),
         (1, 1, [.1, .25, .3, .35, .5, .6, .7, .85, .95, .95]),
         (1, 2, [.05, .2, .2, .63, .45, .85, .65, .6, .85, 0.]),
         (1, 3, [.05, .2, .2, .4, .35, .75, .55, .5, .7, 0.])],
        [(0, 0, [0., .35, .3, 0., .5, .35, 1., .57]),
         (0, 1, [0., .45, .5, .5, 1., 1.]),
         (0, 2, [0., .18, .3, 0., .5, .2, 1., .25]),
         (0, 3, [0., .18, .5, .2, 1., .25]),
         (1, 0, [.1, .47, .4, .52, .6, .78, .8, .97, 1., .98]),
         (1, 1, [.1, .3, .4, .55, .7, .92, .9, 1.]),
         (1, 2, [.05, .2, .3, .35, .5, .65, .75, .85, .95, 1.]),
         (1, 3, [.05, .2, .3, .3, .5, .6, .75, .8, .95, .95])],
        [(0, 0, [.7, 1., .95, .23]),
         (0, 1, [.98, .55, 1., .58]),
         (1, 0, [.1, .2, .4, .55, .65, .85, .9, 1.]),
         (1, 1, [.05, .2, .3, .45, .55, .7, .8, .9, .9, .98]),
         (1, 2, [.05, .17, .3, .35, .55, .65, .75, .78, .9, 1.]),
         (1, 3, [.05, .18, .3, .45, .5, .65, .7, .72, .85, .97])],
    ],
    "Overlap": [
        [(0, 0, [0., .4, .3, .35, .6, .3, .8, .45, 1., .98]),
         (0, 1, [0., .37, .2, .53, .4, .3, .7, .28, 1., .57]),
         (0, 2, [0., .15, .3, .35, .5, .05, .7, .05, 1., .18]),
         (0, 3, [0., .1, .25, 0., .5, .12, .7, .03, 1., .11]),
         (1, 0, [.1, .57, .5, .6, .75, .72, 1., 1.]),
         (1, 1, [.1, .3, .5, .45, .75, .6, .95, .78]),
         (1, 2, [.05, .08, .3, .15, .5, .18, .75, .3, .95, .48]),
         (1, 3, [.05, .12, .3, .17, .5, .2, .7, .28, .95, .45])],
        [(0, 0, [0., .75, .5, .83, .75, .85, 1., .98]),
         (0, 1, [0., .33, .5, .35, .75, .25, 1., .6]),
         (0, 2, [0., .13, .5, .12, .75, .12, 1., .2]),
         (0, 3, [0., .08, .5, 0., .75, .1, 1., .11]),
         (1, 0, [.1, .73, .5, .82, .75, .85, 1., .98]),
         (1, 1, [.1, .35, .3, .38, .5, .45, .7, .53, .95, .77]),
         (1, 2, [.05, .07, .3, .13, .5, .18, .75, .3, .95, .5]),
         (1, 3, [.05, .1, .3, .15, .5, .18, .75, .28, .95, .42])],
        [(0, 0, [0., .78, .3, .72, .6, .1, 1., .6]),
         (0, 1, [0., .35, .3, .25, .5, .43, .65, .1, 1., .2]),
         (0, 2, [0., .12, .3, .1, .5, .13, .7, .2, 1., .2]),
         (0, 3, [0., .1, .5, .08, 1., .11]),
         (1, 0, [.05, .95, .3, .98, .9, .98]),
         (1, 1, [.05, .5, .3, .75, .5, .95, .85, 1.]),
         (1, 2, [.05, .13, .3, .6, .5, .93, .7, .98, .9, 1.]),
         (1, 3, [.05, .08, .3, .55, .5, .9, .7, 1., .9, 1.])],
        [(0, 0, [0., .35, .2, .28, .5, .55, .7, .2, 1., .57]),
         (0, 1, [0., .25, .3, .1, .5, 0., .7, 0., 1., .18]),
         (0, 2, [0., 0., .5, 0., .65, 0., 1., .1]),
         (1, 0, [.05, .33, .3, .5, .5, .75, .7, .9, .9, 1.]),
         (1, 1, [.05, .1, .3, .45, .5, .7, .7, .9, .9, 1.]),
         (1, 2, [.05, .15, .3, .4, .5, .72, .75, 1., .9, 1.]),
         (1, 3, [.05, .05, .3, .35, .5, .65, .7, .95, .9, 1.])],
    ],
    "Transformer": [
        [(0, 0, [0., .87, .2, 1., .5, 1.]),
         (0, 1, [0., .25, .25, 1., .5, 1.]),
         (0, 2, [0., 1., .5, 1.]),
         (0, 3, [0., .05, .3, .8, .5, .13]),
         (1, 0, [0., .3, .3, .5, .5, .5, .75, .68, 1., .98]),
         (1, 1, [0., .27, .3, .45, .5, .55, .75, .68, 1., .97]),
         (1, 2, [0., .1, .3, .3, .6, .38, .75, .5, .9, .8]),
         (1, 3, [0., .05, .2, .2, .5, .35, .75, .42, .9, .78])],
        [(0, 0, [0., .87, .2, 1., .5, 1.]),
         (0, 1, [0., .22, .2, .95, .3, 1., .5, 1.]),
         (0, 2, [0., 1., .5, 1.]),
         (0, 3, [0., 0., .25, .85, .5, .83]),
         (1, 0, [.05, .38, .3, .65, .5, .72, .75, .8, 1., .98]),
         (1, 1, [.05, .4, .3, .55, .5, .6, .7, .62, 1., .97]),
         (1, 2, [0., .12, .3, .3, .5, .37, .75, .5, .95, .77]),
         (1, 3, [0., .03, .3, .25, .5, .35, .7, .35, .9, .65])],
        [(0, 0, [0., .42, .3, .43, .5, .38, .7, .6, 1., .9]),
         (0, 1, [0., .33, .3, .4, .5, .5, .75, .7, 1., .85]),
         (0, 2, [0., .08, .3, .18, .5, .18, .7, 0., 1., .3]),
         (0, 3, [0., .05, .5, .05, .7, .23, 1., .05]),
         (1, 0, [.05, .3, .3, .4, .5, .6, .75, .7, .9, .95]),
         (1, 1, [.05, .1, .3, .3, .5, .63, .7, .6, .85, .5]),
         (1, 2, [0., .02, .3, .3, .55, .55, .7, .87, .9, .97]),
         (1, 3, [0., .05, .3, .25, .5, .63, .75, .65])],
        [(0, 0, [.1, .65, .25, .8, .45, .42, .65, .4, 1., .88]),
         (0, 1, [.1, 1., .25, 1., .45, .45, .55, .45, .75, .3, 1., .25]),
         (0, 2, [.1, .85, .3, .18, .6, .12, .8, .06, 1., .06]),
         (0, 3, [.3, .55, .45, .2, .7, .3, 1., .25]),
         (1, 0, [.05, .05, .3, .55, .5, .5, .7, .7, .95, .9]),
         (1, 1, [.1, .9, .2, .6, .4, .45, .5, .6, .7, .45, .9, .9]),
         (1, 2, [.05, .05, .3, .5, .5, .8, .7, .95, .9, .98]),
         (1, 3, [.05, .05, .25, .45, .5, .62, .65, .25])],
    ],
}

# ---------------- style ----------------
base_colors = ['#00806a', '#66b85a', '#9dcc55', '#d5e35f']
ts_colors = ['#ff0000', '#ff7300', '#ffa300', '#ffd200']
alphas = [0.45, 0.62, 0.8, 1.0]
sub_greys = ['#c4c4c4', '#b2b2b2', '#a0a0a0', '#8e8e8e']

W, H = 1135, 1591
fig = plt.figure(figsize=(W / 100, H / 100), dpi=100)


def box(x, y, w, h):
    # pixel box measured from the top-left corner -> figure fraction
    return [x / W, 1 - (y + h) / H, w / W, h / H]


def fx(x):
    return x / W


def fy(y):
    return 1 - y / H


# ---------------- legend ----------------
fig.add_artist(FancyBboxPatch((fx(240), fy(90)), fx(662), 86 / H,
                              boxstyle="round,pad=0,rounding_size=0.004",
                              transform=fig.transFigure, facecolor='white',
                              edgecolor='#cfcfcf', lw=1.3))
leg_x = [243, 414, 576, 748]
for i in range(4):
    for j, (names, cols, yy) in enumerate([(base_names, base_colors, 18), (ts_names, ts_colors, 46)]):
        fig.add_artist(Rectangle((fx(leg_x[i]), fy(yy + 3)), 23 / W, 6 / H,
                                 transform=fig.transFigure, color=cols[i], lw=0))
        fig.text(fx(leg_x[i] + 34), fy(yy), names[i], fontsize=17.5, va='center', ha='left')
for k, lab in enumerate(sub_factors):
    fig.add_artist(Rectangle((fx(409 + k * 17.8), fy(80)), 17.8 / W, 14 / H,
                             transform=fig.transFigure, color=sub_greys[k], lw=0))
    fig.text(fx(409 + k * 17.8 + 8.9), fy(73.5), lab, fontsize=7.5, ha='center', va='center',
             color='#2a2a2a')
fig.text(fx(497), fy(73), "Subsampling factor", fontsize=17.5, va='center', ha='left')

# ---------------- panels ----------------
panels = [("(a)", panel_a, 113, 142), ("(b)", panel_b, 715, 142),
          ("(c)", panel_c, 113, 642), ("(d)", panel_d, 715, 642),
          ("(e)", panel_e, 110, 1142), ("(f)", panel_f, 712, 1142)]
col_step, row_step, aw, ah = 106, 104.7, 96, 95

for label, panel, left, top in panels:
    fig.text(fx(left - 103), fy(top - 15), label, fontsize=13.5, va='center', ha='left')
    for c, col in enumerate(columns):
        for r in range(4):
            ax = fig.add_axes(box(left + c * col_step, top + r * row_step, aw, ah))
            for ts, lvl, pts in panel[col][r]:
                color = ts_colors[r] if ts else base_colors[r]
                ax.plot(pts[0::2], pts[1::2], color=color, alpha=alphas[lvl], lw=1.9,
                        solid_joinstyle='miter')
            ax.plot(diag, diag, color='black', lw=1.9, ls=(0, (3.2, 2.0)), zorder=5)
            ax.set_xlim(-0.045, 1.045)
            ax.set_ylim(-0.045, 1.045)
            ax.set_xticks(x_ticks)
            ax.set_yticks(y_ticks)
            if c == 0:
                ax.set_yticklabels(["%.2f" % v for v in y_ticks])
            else:
                ax.set_yticklabels([])
            if r == 3:
                ax.set_xticklabels(["%.1f" % v for v in x_ticks])
            else:
                ax.set_xticklabels([])
            ax.tick_params(length=3, width=0.8, color='#333333', labelsize=9.5,
                           labelcolor='#555555', pad=2.5)
            for s in ax.spines.values():
                s.set_color('#3a3a3a')
                s.set_linewidth(1.3)
            if r == 0:
                ax.set_title(col, fontsize=10.8, pad=8, color='#1a1a1a')
    x_mid = left + (3 * col_step + aw) / 2
    fig.text(fx(x_mid), fy(top + 441), "Confidence", fontsize=9.5, ha='center', va='center',
             color='#333333')
    fig.text(fx(left - 48), fy(top + 204), r"Accuracy $\leftarrow$", fontsize=9.5, rotation=90,
             ha='center', va='center', color='#333333')

fig.savefig('out.png', dpi=100)
